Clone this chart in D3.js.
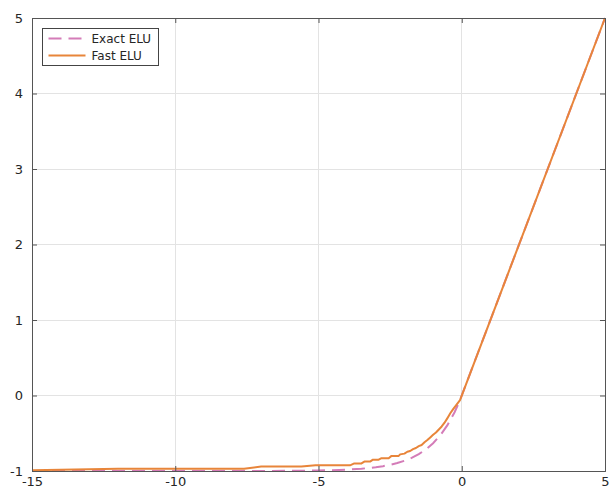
<!DOCTYPE html>
<html><head><meta charset="utf-8">
<script src="https://cdn.jsdelivr.net/npm/d3@7"></script>
<style>body{margin:0;background:#fff}svg{display:block}</style>
</head><body>
<script>
// Data
const xTicks = [-15, -10, -5, 0, 5];
const yTicks = [-1, 0, 1, 2, 3, 4, 5];
const exactX = [-15,-14,-13,-12,-11,-10,-9,-8,-7,-6,-5.5,-5,-4.5,-4,-3.5,-3,-2.75,-2.5,-2.25,-2,-1.75,-1.5,-1.25,-1,-0.75,-0.5,-0.25,-0.06,5];
const exactY = [-1,-1,-1,-1,-1,-1,-1,-1,-0.999,-0.998,-0.996,-0.993,-0.989,-0.982,-0.97,-0.95,-0.936,-0.918,-0.895,-0.865,-0.826,-0.777,-0.713,-0.632,-0.528,-0.393,-0.221,-0.06,5];
const fastX = [-15,-13.5,-12,-7.6,-7,-5.6,-5.1,-3.9,-3.75,-3.5,-3.4,-3.2,-3.1,-2.9,-2.8,-2.55,-2.45,-2.2,-2.15,-2.0,-1.9,-1.8,-1.7,-1.6,-1.5,-1.4,-1.3,-1.2,-1.1,-1.0,-0.9,-0.8,-0.7,-0.6,-0.5,-0.4,-0.3,-0.2,-0.1,-0.06,5];
const fastY = [-0.99,-0.98,-0.97,-0.97,-0.94,-0.94,-0.925,-0.925,-0.90,-0.90,-0.875,-0.875,-0.85,-0.85,-0.83,-0.83,-0.80,-0.80,-0.78,-0.77,-0.745,-0.735,-0.71,-0.695,-0.67,-0.655,-0.62,-0.59,-0.555,-0.52,-0.49,-0.45,-0.41,-0.36,-0.30,-0.235,-0.18,-0.13,-0.08,-0.06,5];
const seriesNames = ["Exact ELU", "Fast ELU"];

const W = 613, H = 490;
const m = {left: 32, top: 18, right: 8, bottom: 19};
const iw = W - m.left - m.right, ih = H - m.top - m.bottom;
const pink = "#d47cb8", orange = "#e8853a", axisCol = "#555", textCol = "#262626";

const svg = d3.select("body").append("svg").attr("width", W).attr("height", H);
const g = svg.append("g").attr("transform", `translate(${m.left},${m.top})`);
const x = d3.scaleLinear().domain([-15, 5]).range([0, iw]);
const y = d3.scaleLinear().domain([-1, 5]).range([ih, 0]);

// grid
g.append("g").selectAll("line").data(xTicks).join("line")
  .attr("x1", d => x(d)).attr("x2", d => x(d)).attr("y1", 0).attr("y2", ih)
  .attr("stroke", "#e3e3e3").attr("stroke-width", 1).attr("shape-rendering", "crispEdges");
g.append("g").selectAll("line").data(yTicks).join("line")
  .attr("y1", d => y(d)).attr("y2", d => y(d)).attr("x1", 0).attr("x2", iw)
  .attr("stroke", "#e3e3e3").attr("stroke-width", 1).attr("shape-rendering", "crispEdges");

// lines
const line = d3.line().x(d => x(d[0])).y(d => y(d[1]));
const exactData = exactX.map((v, i) => [v, exactY[i]]);
const fastData = fastX.map((v, i) => [v, fastY[i]]);
g.append("path").datum(exactData).attr("d", line).attr("fill", "none")
  .attr("stroke", pink).attr("stroke-width", 2).attr("stroke-dasharray", "13,7");
g.append("path").datum(fastData).attr("d", line).attr("fill", "none")
  .attr("stroke", orange).attr("stroke-width", 2).attr("stroke-linejoin", "round");

// axes (ticks inside, box)
const tl = 5;
const fmt = d => d < 0 ? "-" + Math.abs(d) : String(d);
const bottomAx = d3.axisBottom(x).tickValues(xTicks).tickSize(-tl).tickPadding(6).tickFormat(fmt);
const topAx = d3.axisTop(x).tickValues(xTicks).tickSize(-tl).tickFormat("");
const leftAx = d3.axisLeft(y).tickValues(yTicks).tickSize(-tl).tickPadding(9).tickFormat(fmt);
const rightAx = d3.axisRight(y).tickValues(yTicks).tickSize(-tl).tickFormat("");
function style(sel) {
  sel.selectAll("path").attr("stroke", axisCol);
  sel.selectAll("line").attr("stroke", axisCol);
  sel.selectAll("text").attr("fill", textCol).style("font-family", "DejaVu Sans, sans-serif").style("font-size", "13px");
}
g.append("g").attr("transform", `translate(0,${ih})`).call(bottomAx).call(style);
g.append("g").call(topAx).call(style);
g.append("g").call(leftAx).call(style);
g.append("g").attr("transform", `translate(${iw},0)`).call(rightAx).call(style);

// legend
const lg = svg.append("g").attr("transform", "translate(42.5,28.5)");
lg.append("rect").attr("width", 116).attr("height", 37).attr("fill", "#fff").attr("stroke", "#444").attr("stroke-width", 1);
const rows = [{name: seriesNames[0], color: pink, dash: "13,7"}, {name: seriesNames[1], color: orange, dash: null}];
rows.forEach((r, i) => {
  const yy = 10 + i * 17;
  lg.append("line").attr("x1", 6).attr("x2", 43).attr("y1", yy).attr("y2", yy)
    .attr("stroke", r.color).attr("stroke-width", 2).attr("stroke-dasharray", r.dash);
  lg.append("text").attr("x", 49).attr("y", yy).attr("dy", "0.35em").text(r.name)
    .attr("fill", textCol).style("font-family", "DejaVu Sans, sans-serif").style("font-size", "12px");
});
</script>
</body></html>
